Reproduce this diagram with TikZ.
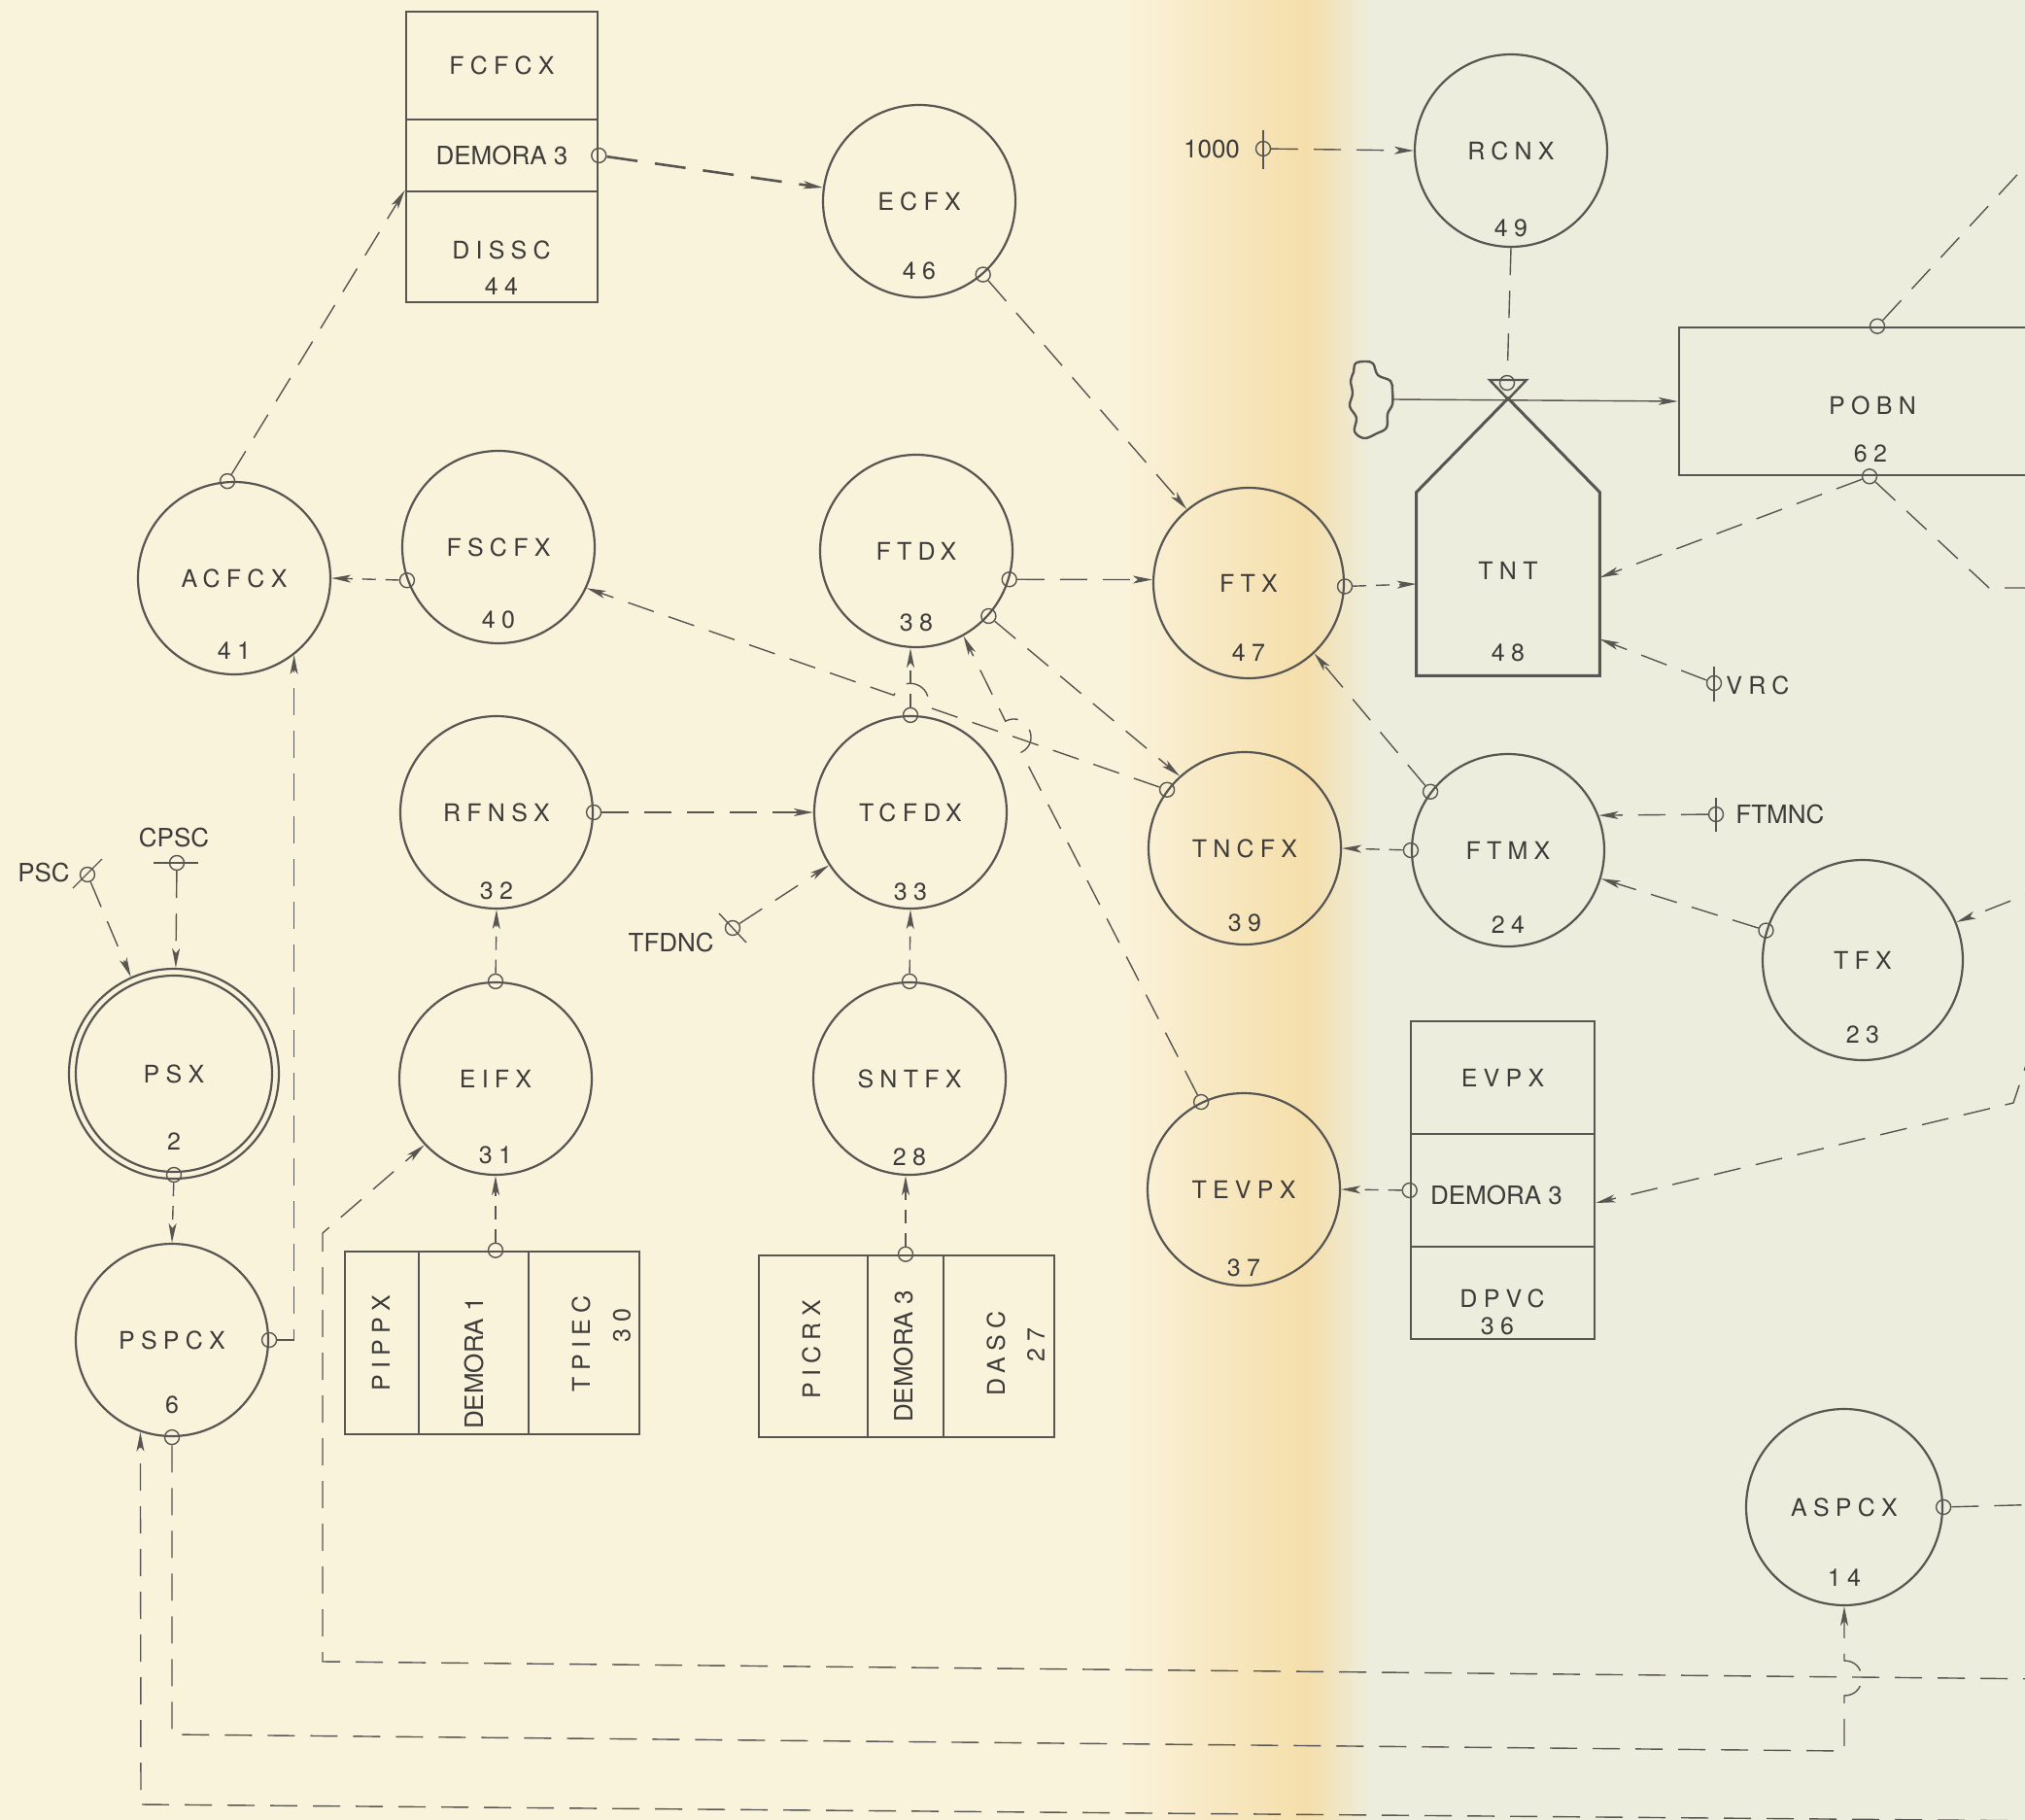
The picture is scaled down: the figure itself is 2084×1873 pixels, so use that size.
\documentclass[tikz,border=0pt]{standalone}
\usepackage{fontspec}
\setmainfont{TeX Gyre Heros}
\newfontfamily\hvsp[LetterSpace=25]{TeX Gyre Heros}
\newfontfamily\hvpl{TeX Gyre Heros}
\newcommand\myLS{\hvsp\fontsize{12.5}{15}\selectfont}
\newcommand\myPL{\hvpl\fontsize{13}{15}\selectfont}
\usetikzlibrary{arrows.meta,calc}
\definecolor{ink}{RGB}{88,86,82}
\definecolor{txt}{RGB}{62,60,58}
\definecolor{paperL}{RGB}{250,243,220}
\definecolor{paperM}{RGB}{245,222,170}
\definecolor{paperR}{RGB}{237,237,221}
\begin{document}
\begin{tikzpicture}[x=0.5pt,y=-0.5pt,
  proc/.style={circle,draw=ink,line width=1.1pt,minimum size=99pt,inner sep=0pt,font=\myLS,text=txt},
  lab/.style={inner sep=0pt,font=\myLS,text=txt},
  plab/.style={inner sep=0pt,font=\myPL,text=txt},
  boxc/.style={rectangle,draw=ink,line width=1.3pt,inner sep=0pt,font=\myLS,text=txt},
  port/.style={circle,draw=ink,line width=0.7pt,minimum size=7.5pt,inner sep=0pt},
  conn/.style={draw=ink,line width=0.7pt,dash pattern=on 14pt off 8pt},
  connS/.style={draw=ink,line width=0.7pt,dash pattern=on 7pt off 5pt},
  connT/.style={draw=ink,line width=1.3pt,dash pattern=on 16pt off 9pt},
  solidc/.style={draw=ink,line width=0.7pt},
  symb/.style={draw=ink,line width=0.7pt},
  arr/.style={-{Stealth[length=10pt,width=4pt,inset=2.5pt]}}]
\useasboundingbox (0,0) rectangle (2084,1873);
\clip (0,0) rectangle (2084,1873);
% paper
\fill[paperL] (0,0) rectangle (1150,1873);
\shade[left color=paperL,right color=paperM] (1149,0) rectangle (1345,1873);
\shade[left color=paperM,right color=paperR] (1344,0) rectangle (1410,1873);
\fill[paperR] (1409,0) rectangle (2084,1873);

% ---------- circles ----------
\node[proc] (ACFCX) at (241,595) {ACFCX};
\node[lab] at ($(ACFCX)+(0,75)$) {41};
\node[proc] (FSCFX) at (513,563) {FSCFX};
\node[lab] at ($(FSCFX)+(0,75)$) {40};
\node[proc] (ECFX) at (946,207) {ECFX};
\node[lab] at ($(ECFX)+(0,72)$) {46};
\node[proc] (FTDX) at (943,567) {FTDX};
\node[lab] at ($(FTDX)+(0,74)$) {38};
\node[proc,minimum size=98pt] (FTX) at (1285,600) {FTX};
\node[lab] at ($(FTX)+(0,72)$) {47};
\node[proc] (RCNX) at (1555,155) {RCNX};
\node[lab] at ($(RCNX)+(0,80)$) {49};
\node[proc] (TCFDX) at (937,836) {TCFDX};
\node[lab] at ($(TCFDX)+(0,82)$) {33};
\node[proc] (TNCFX) at (1281,873) {TNCFX};
\node[lab] at ($(TNCFX)+(0,77)$) {39};
\node[proc] (FTMX) at (1552,875) {FTMX};
\node[lab] at ($(FTMX)+(0,77)$) {24};
\node[proc,minimum size=103pt] (TFX) at (1917,988) {TFX};
\node[lab] at ($(TFX)+(0,77)$) {23};
\node[proc] (RFNSX) at (511,836) {RFNSX};
\node[lab] at ($(RFNSX)+(0,81)$) {32};
\node[proc] (EIFX) at (510,1110) {EIFX};
\node[lab] at ($(EIFX)+(0,79)$) {31};
\node[proc] (SNTFX) at (936,1110) {SNTFX};
\node[lab] at ($(SNTFX)+(0,81)$) {28};
\node[proc] (TEVPX) at (1280,1224) {TEVPX};
\node[lab] at ($(TEVPX)+(0,81)$) {37};
\node[proc,minimum size=108pt] (PSX) at (179,1105) {PSX};
\node[circle,draw=ink,line width=1.1pt,minimum size=101pt,inner sep=0pt] (PSXin) at (PSX.center) {};
\node[lab] at ($(PSX)+(0,70)$) {2};
\node[proc] (PSPCX) at (177,1379) {PSPCX};
\node[lab] at ($(PSPCX)+(0,67)$) {6};
\node[proc,minimum size=101pt] (ASPCX) at (1898,1551) {ASPCX};
\node[lab] at ($(ASPCX)+(0,73)$) {14};

% ---------- boxes ----------
\node[boxc,minimum width=98.5pt,minimum height=55.5pt] (fcTop) at (516.5,67.5) {FCFCX};
\node[boxc,minimum width=98.5pt,minimum height=37pt,font=\myPL] (fcMid) at (516.5,160) {DEMORA 3};
\node[boxc,minimum width=98.5pt,minimum height=57pt] (fcBot) at (516.5,254) {};
\node[lab] at (516,257) {DISSC};
\node[lab] at (516,295) {44};

\node[boxc,minimum width=94.5pt,minimum height=58pt] (evTop) at (1546.5,1109) {EVPX};
\node[boxc,minimum width=94.5pt,minimum height=58pt] (evMid) at (1546.5,1225) {};
\node[plab] at (1540,1230) {DEMORA 3};
\node[boxc,minimum width=94.5pt,minimum height=47.5pt] (evBot) at (1546.5,1330.5) {};
\node[lab] at (1546,1336) {DPVC};
\node[lab] at (1541,1365) {36};

\node[boxc,minimum width=38pt,minimum height=94pt] (pipL) at (393,1382) {};
\node[boxc,minimum width=56.5pt,minimum height=94pt] (pipMid) at (487.5,1382) {};
\node[boxc,minimum width=57pt,minimum height=94pt] (pipR) at (601,1382) {};
\node[lab,rotate=90] at (392,1382) {PIPPX};
\node[plab,rotate=90] at (488,1403) {DEMORA 1};
\node[lab,rotate=90] at (598,1383) {TPIEC};
\node[lab,rotate=90] at (640,1364) {30};

\node[boxc,minimum width=56pt,minimum height=93.5pt] (picL) at (837,1385.5) {};
\node[boxc,minimum width=39pt,minimum height=93.5pt] (picMid) at (932,1385.5) {};
\node[boxc,minimum width=57pt,minimum height=93.5pt] (picR) at (1028,1385.5) {};
\node[lab,rotate=90] at (835,1389) {PICRX};
\node[plab,rotate=90] at (930,1396) {DEMORA 3};
\node[lab,rotate=90] at (1025,1393) {DASC};
\node[lab,rotate=90] at (1066,1384) {27};

% TNT
\node[inner sep=0pt,minimum width=94pt,minimum height=94pt] (TNT) at (1552,601) {};
\coordinate (TNTtop) at (1552,410);
\draw[draw=ink,line width=1.5pt,line join=miter] (TNT.north west) -- (TNTtop) -- (TNT.north east) -- (TNT.south east) -- (TNT.south west) -- cycle;
\node[lab] at (1552,587) {TNT};
\node[lab] at (1552,672) {48};

% POBN
\node[boxc,minimum width=199pt,minimum height=76pt] (POBN) at (1927,413) {};
\node[lab] at (1927,417) {POBN};
\node[lab] at (1925,467) {62};

% blob
\draw[draw=ink,line width=1.2pt] plot[smooth cycle,tension=0.6] coordinates {(1395,374) (1405,372) (1413,374) (1418,386) (1431,392) (1433,402) (1433,416) (1428,426) (1427,440) (1417,446) (1404,451) (1394,444) (1396,430) (1389,418) (1392,405) (1390,392) (1393,383)};
\coordinate (blobR) at (1433,411);

% ---------- ports ----------
\node[port] (acP) at (ACFCX.94) {};
\node[port] (fcP) at (fcMid.east) {};
\node[port] (fsP) at (FSCFX.200) {};
\node[port] (ecP) at (ECFX.-49) {};
\node[port] (ftdP1) at (FTDX.-17) {};
\node[port] (ftdP2) at (FTDX.-42) {};
\node[port] (ftxP) at (FTX.-2) {};
\node[port] (tntP) at (1551,394) {};
\node[port] (pobT) at ([xshift=2.5pt]POBN.north) {};
\node[port] (pobB) at ([xshift=-1.5pt]POBN.south) {};
\node[port] (tncP) at (TNCFX.143) {};
\node[port] (ftmP1) at (FTMX.143) {};
\node[port] (ftmP2) at (FTMX.180) {};
\node[port] (tfxP) at (TFX.163) {};
\node[port] (tcfP) at (TCFDX.90) {};
\node[port] (snP) at (SNTFX.90) {};
\node[port] (picP) at (picMid.north) {};
\node[port] (rfP) at (RFNSX.0) {};
\node[port] (eiP) at (EIFX.90) {};
\node[port] (pipP) at (EIFX.south |- pipMid.north) {};
\node[port] (tevP) at (TEVPX.116) {};
\node[port] (evP) at (evMid.west) {};
\node[port] (psxP) at (179,1209) {};
\node[port] (pspP1) at (PSPCX.0) {};
\node[port] (pspP2) at (PSPCX.-90) {};
\node[port] (aspP) at (ASPCX.0) {};

% triangle at TNT apex
\draw[draw=ink,line width=1.2pt,line join=miter] (1533,391) -- (1571,391) -- (1552,411) -- cycle;

% ---------- source symbols ----------
\node[port] (pscS) at (90,900) {};
\draw[symb] (75,914) -- (105,884);
\node[plab] at (45,898) {PSC};
\node[port] (cpscS) at (182,888) {};
\draw[symb] (158,888) -- (204,888);
\node[plab] at (179,862) {CPSC};
\node[port] (kS) at (1300,153) {};
\draw[symb] (1300,134) -- (1300,174);
\node[plab] at (1247,153) {1000};
\node[port] (vrcS) at (1764,703) {};
\draw[symb] (1764,686) -- (1764,722);
\node[lab,anchor=west] at (1776,705) {VRC};
\node[port] (ftmncS) at (1766,838) {};
\draw[symb] (1766,821) -- (1766,856);
\node[plab,anchor=west] at (1786,838) {FTMNC};
\node[port] (tfdS) at (754,955) {};
\draw[symb] (740,940) -- (768,970);
\node[plab,anchor=east] at (735,970) {TFDNC};

% ---------- connectors ----------
\draw[conn,arr] (acP) -- (fcBot.north west);
\draw[connT,arr] (fcP) -- (ECFX.172);
\draw[connS,arr] (fsP) -- (ACFCX.east);
\draw[conn,arr] (pspP1) -| (ACFCX.-52);
\draw[conn,arr] (ecP) -- (FTX.130);
\draw[conn,arr] (ftdP1) -- (FTX.178);
\draw[conn,arr] (ftdP2) -- (TNCFX.132);
\draw[conn,arr] (tncP) -- (954.0,727.3) .. controls (961.9,704.6) and (927.9,692.8) .. (920.0,715.5) -- (FSCFX.-25);
\draw[conn,arr] (tevP) -- (1051.1,774.2) .. controls (1072.4,763.2) and (1056.0,731.2) .. (1034.7,742.2) -- (FTDX.-61);
\draw[connS,arr] (ftxP) -- (TNT.west);
\draw[conn,arr] (kS) -- (RCNX.180);
\draw[conn] (RCNX.south) -- (tntP);
\draw[solidc,arr] (blobR) -- (POBN.west);
\draw[conn,arr] (pobB) -- (TNT.4);
\draw[conn] (pobB) -- (2047,605) -- (2110,605);
\draw[conn] (pobT) -- (2110,143);
\draw[conn,arr] (vrcS) -- (TNT.-31);
\draw[conn,arr] (ftmP1) -- (FTX.-47);
\draw[connS,arr] (ftmP2) -- (TNCFX.east);
\draw[conn,arr] (ftmncS) -- (FTMX.21);
\draw[conn,arr] (tfxP) -- (FTMX.-17);
\draw[conn,arr] (2110,911) -- (TFX.22);
\draw[conn,arr] (2092,1075) -- (2072,1135) -- ([yshift=-6.5pt]evMid.east);
\draw[connS,arr] (evP) -- (TEVPX.east);
\draw[connS,arr] (tcfP) -- (tcfP |- FTDX.south);
\draw[conn,arr] (rfP) -- (TCFDX.west);
\draw[conn,arr] (tfdS) -- (TCFDX.-147);
\draw[connS,arr] (snP) -- (TCFDX.south);
\draw[connS,arr] (picP) -- (picP |- SNTFX.south);
\draw[connS,arr] (eiP) -- (RFNSX.south);
\draw[connS,arr] (pipP) -- (pipP |- EIFX.south);
\draw[conn,arr] (2110,1728) -- (332,1710) -- (332,1269) -- (EIFX.-137);
\draw[conn,arr] (pspP2) -- (177,1785) -- (1898,1802) -- (1898,1745) .. controls (1922,1745) and (1922,1709) .. (1898,1709) -- (ASPCX.south);
\draw[conn,arr] (2110,1874) -- (145,1857) -- (PSPCX.-109);
\draw[conn] (aspP) -- (2110,1548);
\draw[connS,arr] (psxP) -- (PSPCX.north);
\draw[conn,arr] (pscS) -- (PSX.114);
\draw[conn,arr] (cpscS) -- (PSX.89);
\end{tikzpicture}
\end{document}
